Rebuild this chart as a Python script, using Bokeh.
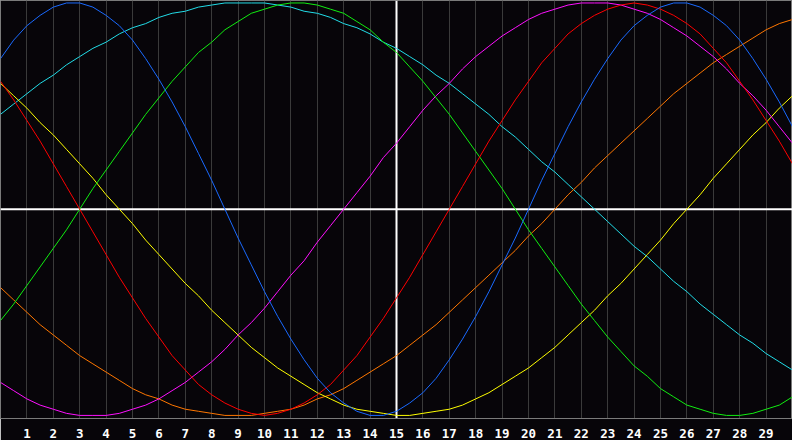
from bokeh.plotting import figure
from bokeh.models import Range1d, FixedTicker, Span
from bokeh.embed import file_html
from bokeh.resources import INLINE

# half-day positions along the x axis (0, 0.5, ..., 30)
days = [i / 2 for i in range(61)]
day_ticks = list(range(1, 30))
day_labels = [str(d) for d in day_ticks]

# cycle values, every half day (d = 0 .. 30)
cycle_23 = [0.73, 0.82, 0.89, 0.94, 0.98, 1.00, 1.00, 0.98, 0.94, 0.89, 0.82,
            0.73, 0.63, 0.52, 0.40, 0.27, 0.14, 0.00, -0.14, -0.27, -0.40,
            -0.52, -0.63, -0.73, -0.82, -0.89, -0.94, -0.98, -1.00, -1.00, -0.98,
            -0.94, -0.89, -0.82, -0.73, -0.63, -0.52, -0.40, -0.27, -0.14, 0.00,
            0.14, 0.27, 0.40, 0.52, 0.63, 0.73, 0.82, 0.89, 0.94, 0.98,
            1.00, 1.00, 0.98, 0.94, 0.89, 0.82, 0.73, 0.63, 0.52, 0.40]
cycle_28 = [0.62, 0.53, 0.43, 0.33, 0.22, 0.11, 0.00, -0.11, -0.22, -0.33, -0.43,
            -0.53, -0.62, -0.71, -0.78, -0.85, -0.90, -0.94, -0.97, -0.99, -1.00,
            -0.99, -0.97, -0.94, -0.90, -0.85, -0.78, -0.71, -0.62, -0.53, -0.43,
            -0.33, -0.22, -0.11, 0.00, 0.11, 0.22, 0.33, 0.43, 0.53, 0.62,
            0.71, 0.78, 0.85, 0.90, 0.94, 0.97, 0.99, 1.00, 0.99, 0.97,
            0.94, 0.90, 0.85, 0.78, 0.71, 0.62, 0.53, 0.43, 0.33, 0.22]
cycle_33 = [-0.54, -0.46, -0.37, -0.28, -0.19, -0.10, 0.00, 0.10, 0.19, 0.28, 0.37,
            0.46, 0.54, 0.62, 0.69, 0.76, 0.81, 0.87, 0.91, 0.95, 0.97,
            0.99, 1.00, 1.00, 0.99, 0.97, 0.95, 0.91, 0.87, 0.81, 0.76,
            0.69, 0.62, 0.54, 0.46, 0.37, 0.28, 0.19, 0.10, 0.00, -0.10,
            -0.19, -0.28, -0.37, -0.46, -0.54, -0.62, -0.69, -0.76, -0.81, -0.87,
            -0.91, -0.95, -0.97, -0.99, -1.00, -1.00, -0.99, -0.97, -0.95, -0.91]
cycle_38 = [-0.84, -0.88, -0.92, -0.95, -0.97, -0.99, -1.00, -1.00, -1.00, -0.99, -0.97,
            -0.95, -0.92, -0.88, -0.84, -0.79, -0.74, -0.68, -0.61, -0.55, -0.48,
            -0.40, -0.32, -0.25, -0.16, -0.08, 0.00, 0.08, 0.16, 0.25, 0.32,
            0.40, 0.48, 0.55, 0.61, 0.68, 0.74, 0.79, 0.84, 0.88, 0.92,
            0.95, 0.97, 0.99, 1.00, 1.00, 1.00, 0.99, 0.97, 0.95, 0.92,
            0.88, 0.84, 0.79, 0.74, 0.68, 0.61, 0.55, 0.48, 0.40, 0.32]
cycle_43 = [0.61, 0.55, 0.49, 0.42, 0.36, 0.29, 0.22, 0.15, 0.07, 0.00, -0.07,
            -0.15, -0.22, -0.29, -0.36, -0.42, -0.49, -0.55, -0.61, -0.67, -0.72,
            -0.77, -0.81, -0.85, -0.89, -0.92, -0.95, -0.97, -0.98, -0.99, -1.00,
            -1.00, -0.99, -0.98, -0.97, -0.95, -0.92, -0.89, -0.85, -0.81, -0.77,
            -0.72, -0.67, -0.61, -0.55, -0.49, -0.42, -0.36, -0.29, -0.22, -0.15,
            -0.07, 0.00, 0.07, 0.15, 0.22, 0.29, 0.36, 0.42, 0.49, 0.55]
cycle_48 = [-0.38, -0.44, -0.50, -0.56, -0.61, -0.66, -0.71, -0.75, -0.79, -0.83, -0.87,
            -0.90, -0.92, -0.95, -0.97, -0.98, -0.99, -1.00, -1.00, -1.00, -0.99,
            -0.98, -0.97, -0.95, -0.92, -0.90, -0.87, -0.83, -0.79, -0.75, -0.71,
            -0.66, -0.61, -0.56, -0.50, -0.44, -0.38, -0.32, -0.26, -0.20, -0.13,
            -0.07, 0.00, 0.07, 0.13, 0.20, 0.26, 0.32, 0.38, 0.44, 0.50,
            0.56, 0.61, 0.66, 0.71, 0.75, 0.79, 0.83, 0.87, 0.90, 0.92]
cycle_53 = [0.46, 0.51, 0.56, 0.61, 0.65, 0.70, 0.74, 0.78, 0.81, 0.85, 0.88,
            0.90, 0.93, 0.95, 0.96, 0.98, 0.99, 1.00, 1.00, 1.00, 1.00,
            0.99, 0.98, 0.96, 0.95, 0.93, 0.90, 0.88, 0.85, 0.81, 0.78,
            0.74, 0.70, 0.65, 0.61, 0.56, 0.51, 0.46, 0.40, 0.35, 0.29,
            0.23, 0.18, 0.12, 0.06, 0.00, -0.06, -0.12, -0.18, -0.23, -0.29,
            -0.35, -0.40, -0.46, -0.51, -0.56, -0.61, -0.65, -0.70, -0.74, -0.78]

series = [cycle_53, cycle_48, cycle_43, cycle_38, cycle_33, cycle_28, cycle_23]
colors = ["#22dde8", "#ff7700", "#ffff00", "#ff11ff", "#11ee11", "#ff0000", "#1a6aff"]

BG = "#070509"

p = figure(width=792, height=440, output_backend="svg", toolbar_location=None,
           x_range=Range1d(0, 30), y_range=Range1d(-1.015, 1.012),
           y_axis_location=None,
           min_border_left=0, min_border_right=0, min_border_top=0,
           min_border_bottom=20,
           background_fill_color=BG, border_fill_color=BG)

p.outline_line_color = "#7a7a7a"
p.outline_line_width = 1

p.ygrid.visible = False
p.xgrid.ticker = FixedTicker(ticks=day_ticks)
p.xgrid.grid_line_color = "#3a3a3a"
p.xgrid.grid_line_width = 1

ax = p.xaxis[0]
ax.ticker = FixedTicker(ticks=day_ticks)
ax.major_label_overrides = {d: s for d, s in zip(day_ticks, day_labels)}
ax.axis_line_color = "#7a7a7a"
ax.major_tick_line_color = None
ax.minor_tick_line_color = None
ax.major_label_text_color = "#ffffff"
ax.major_label_text_font = "DejaVu Sans Mono"
ax.major_label_text_font_style = "bold"
ax.major_label_text_font_size = "12.5px"
ax.major_label_standoff = 4

p.add_layout(Span(location=15, dimension="height", line_color="#ffffff",
                  line_width=2, level="underlay"))
p.add_layout(Span(location=0, dimension="width", line_color="#ffffff",
                  line_width=2, level="underlay"))

for vals, col in zip(series, colors):
    p.line(days, vals, line_color=col, line_width=1)

open("out.html", "w").write(file_html(p, INLINE))
